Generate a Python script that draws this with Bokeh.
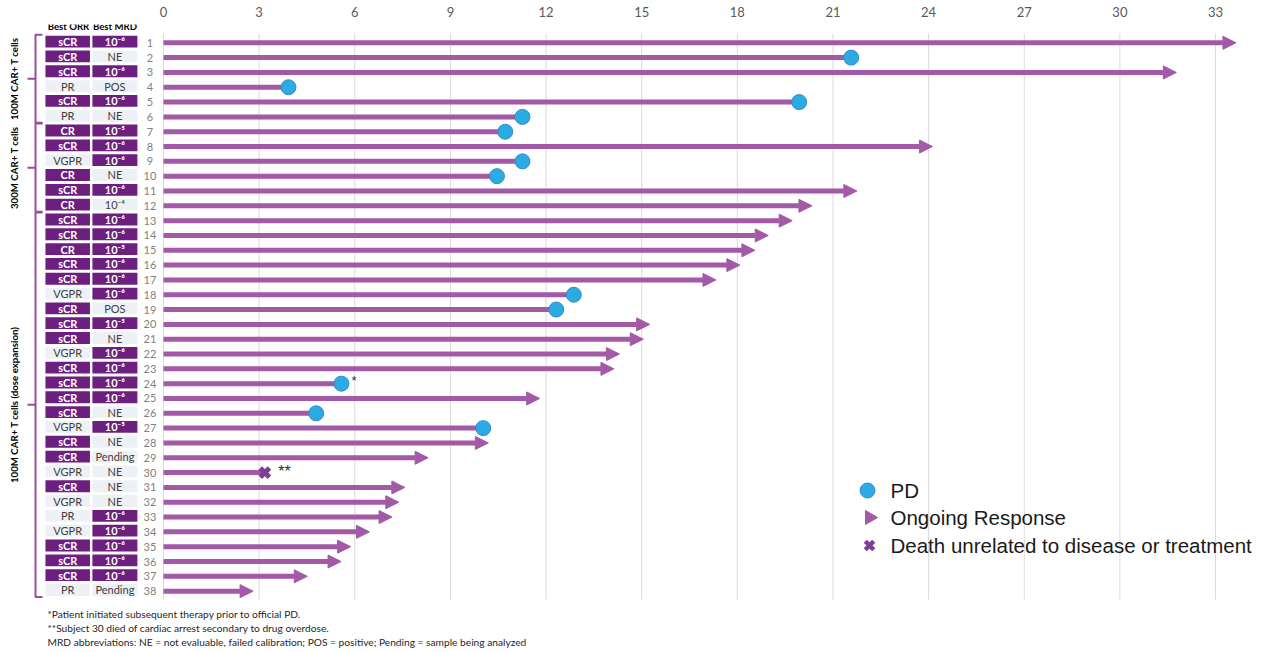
import math

from bokeh.core.properties import value
from bokeh.embed import file_html
from bokeh.models import Arrow, ColumnDataSource, FixedTicker, Label, NormalHead, Range1d
from bokeh.plotting import figure
from bokeh.resources import INLINE

# ---------------------------------------------------------------- data
patients = list(range(1, 39))

best_orr = ["sCR", "sCR", "sCR", "PR", "sCR", "PR",
            "CR", "sCR", "VGPR", "CR", "sCR", "CR",
            "sCR", "sCR", "CR", "sCR", "sCR", "VGPR", "sCR", "sCR", "sCR", "VGPR",
            "sCR", "sCR", "sCR", "sCR", "VGPR", "sCR", "sCR", "VGPR", "sCR", "VGPR",
            "PR", "VGPR", "sCR", "sCR", "sCR", "PR"]

best_mrd = ["10⁻⁶", "NE", "10⁻⁶", "POS", "10⁻⁶", "NE",
            "10⁻⁵", "10⁻⁶", "10⁻⁶", "NE", "10⁻⁶", "10⁻⁴",
            "10⁻⁶", "10⁻⁶", "10⁻⁵", "10⁻⁶", "10⁻⁶", "10⁻⁶", "POS", "10⁻⁵", "NE", "10⁻⁶",
            "10⁻⁶", "10⁻⁶", "10⁻⁶", "NE", "10⁻⁵", "NE", "Pending", "NE", "NE", "NE",
            "10⁻⁶", "10⁻⁶", "10⁻⁶", "10⁻⁶", "10⁻⁶", "Pending"]

# months on study
months = [33.64, 21.57, 31.77, 3.92, 19.94, 11.26,
          10.72, 24.12, 11.26, 10.46, 21.75, 20.34,
          19.72, 18.97, 18.55, 18.08, 17.33, 12.87, 12.32, 15.25, 15.05, 14.30,
          14.13, 5.58, 11.80, 4.79, 10.03, 10.19, 8.30, 3.18, 7.57, 7.38,
          7.17, 6.46, 5.87, 5.57, 4.51, 2.81]

status = ["ongoing", "PD", "ongoing", "PD", "PD", "PD",
          "PD", "ongoing", "PD", "PD", "ongoing", "ongoing",
          "ongoing", "ongoing", "ongoing", "ongoing", "ongoing", "PD", "PD", "ongoing", "ongoing", "ongoing",
          "ongoing", "PD", "ongoing", "PD", "PD", "ongoing", "ongoing", "death", "ongoing", "ongoing",
          "ongoing", "ongoing", "ongoing", "ongoing", "ongoing", "ongoing"]

note_patients = [24, 30]
note_marks = ["*", "**"]

cohort_names = ["100M CAR+ T cells", "300M CAR+ T cells", "100M CAR+ T cells (dose expansion)"]
cohort_first = [1, 7, 13]
cohort_last = [6, 12, 38]

x_ticks = [0, 3, 6, 9, 12, 15, 18, 21, 24, 27, 30, 33]

deep_orr = ["sCR", "CR"]
deep_mrd = ["10⁻⁶", "10⁻⁵"]

table_headers = ["Best ORR", "Best MRD"]
legend_labels = ["PD", "Ongoing Response", "Death unrelated to disease or treatment"]

footnotes = [
    "*Patient initiated subsequent therapy prior to official PD.",
    "**Subject 30 died of cardiac arrest secondary to drug overdose.",
    "MRD abbreviations: NE = not evaluable, failed calibration; POS = positive; Pending = sample being analyzed",
]

# ---------------------------------------------------------------- geometry / style
W, H, TOP = 1261, 652, 24
PX0, PPU = 163.0, 31.88          # pixel of month 0, pixels per month
ROW1_PY, ROW_PITCH = 42.3, 14.82  # pixel of row 1, pixels per row


def xd(px):
    return (px - PX0) / PPU


def yd(py):
    return 1 + (py - ROW1_PY) / ROW_PITCH


BAR = "#a259a6"
DEEP = "#6c1f7e"
LIGHT = "#edf1f6"
DOT = "#2aace2"
DOT_EDGE = "#3a86c8"
CROSS = "#7d3f93"
BRACKET = "#9a4d9c"
TABLE_FONT = value("Lato")

p = figure(width=W, height=H,
           x_range=Range1d(xd(0), xd(W)), y_range=Range1d(yd(H), yd(TOP)),
           x_axis_location="above", y_axis_location=None,
           toolbar_location=None, output_backend="svg",
           min_border_left=0, min_border_right=0, min_border_bottom=0, min_border_top=TOP,
           outline_line_color=None, background_fill_color="white")
p.grid.visible = False

ax = p.xaxis[0]
ax.ticker = FixedTicker(ticks=x_ticks)
ax.axis_line_color = None
ax.major_tick_line_color = None
ax.minor_tick_line_color = None
ax.major_label_standoff = 2
ax.major_label_text_font = "Lato"
ax.major_label_text_font_size = "13px"
ax.major_label_text_color = "#595959"

# vertical grid lines
p.segment(x0=x_ticks, x1=x_ticks, y0=[yd(33)] * len(x_ticks), y1=[yd(599)] * len(x_ticks),
          line_color="#d9d9d9", line_width=1)

# ---------------------------------------------------------------- bars
stop_idx = [i for i, s in enumerate(status) if s != "ongoing"]
go_idx = [i for i, s in enumerate(status) if s == "ongoing"]

p.segment(x0=[0] * len(stop_idx), x1=[months[i] for i in stop_idx],
          y0=[patients[i] for i in stop_idx], y1=[patients[i] for i in stop_idx],
          line_color=BAR, line_width=5)

arrow_src = ColumnDataSource(dict(x0=[0] * len(go_idx),
                                  x1=[months[i] for i in go_idx],
                                  y=[patients[i] for i in go_idx]))
p.add_layout(Arrow(end=NormalHead(size=13, fill_color=BAR, line_color=BAR, line_width=1),
                   x_start="x0", y_start="y", x_end="x1", y_end="y",
                   line_color=BAR, line_width=5, source=arrow_src))

pd_idx = [i for i, s in enumerate(status) if s == "PD"]
p.scatter(x=[months[i] for i in pd_idx], y=[patients[i] for i in pd_idx], marker="circle",
          size=15, fill_color=DOT, line_color=DOT_EDGE, line_width=1)

death_idx = [i for i, s in enumerate(status) if s == "death"]
p.scatter(x=[months[i] for i in death_idx], y=[patients[i] for i in death_idx], marker="x",
          size=13, line_color=CROSS, line_width=5)

# footnote marks next to the end points
p.text(x=[months[note_patients[0] - 1] + 0.32], y=[note_patients[0] - 0.2],
       text=note_marks[:1], text_font=value("Liberation Sans"), text_font_size="13px",
       text_baseline="middle", text_align="left", text_color="#333333")
p.text(x=[months[note_patients[1] - 1] + 0.42], y=[note_patients[1] - 0.05],
       text=note_marks[1:], text_font=value("Liberation Sans"), text_font_size="16px",
       text_baseline="middle", text_align="left", text_color="#333333")

# ---------------------------------------------------------------- response table
orr_fill = [DEEP if v in deep_orr else LIGHT for v in best_orr]
mrd_fill = [DEEP if v in deep_mrd else LIGHT for v in best_mrd]
orr_txt = ["white" if v in deep_orr else "#404040" for v in best_orr]
mrd_txt = ["white" if v in deep_mrd else "#404040" for v in best_mrd]
orr_style = ["bold" if v in deep_orr else "normal" for v in best_orr]
mrd_style = ["bold" if v in deep_mrd else "normal" for v in best_mrd]

box_y = [pt - 0.08 for pt in patients]
table = ColumnDataSource(dict(y=box_y, yrow=patients, orr=best_orr, mrd=best_mrd,
                              num=[str(pt) for pt in patients],
                              orr_fill=orr_fill, mrd_fill=mrd_fill,
                              orr_txt=orr_txt, mrd_txt=mrd_txt,
                              orr_style=orr_style, mrd_style=mrd_style))

X_ORR, X_MRD, X_NUM = xd(67.2), xd(114.4), xd(149.5)
p.rect(x=X_ORR, y="y", width=44.5 / PPU, height=0.8, fill_color="orr_fill", line_color=None, source=table)
p.rect(x=X_MRD, y="y", width=45 / PPU, height=0.8, fill_color="mrd_fill", line_color=None, source=table)
p.text(x=X_ORR, y="y", text="orr", text_color="orr_txt", text_font_style="orr_style",
       text_font=TABLE_FONT, text_font_size="11px", text_align="center", text_baseline="middle",
       source=table)
p.text(x=X_MRD, y="y", text="mrd", text_color="mrd_txt", text_font_style="mrd_style",
       text_font=TABLE_FONT, text_font_size="11px", text_align="center", text_baseline="middle",
       source=table)
p.text(x=X_NUM, y="yrow", text="num", text_color="#7f7f7f", text_font=TABLE_FONT,
       text_font_size="11px", text_align="center", text_baseline="middle", source=table)

for label, px in zip(table_headers, [68.0, 114.5]):
    p.add_layout(Label(x=px, y=H - 25.5, x_units="screen", y_units="screen",
                       text=label, text_font="Lato", text_font_style="bold", text_font_size="9.6px",
                       text_align="center", text_baseline="middle", text_color="#000000"))

# ---------------------------------------------------------------- cohort brackets
tops = [f - 0.55 for f in cohort_first]
bots = [l + 0.4 for l in cohort_last]
mids = [(t + b) / 2 for t, b in zip(tops, bots)]
XB, XB_END, XB_TICK = xd(35), xd(42), xd(27)
p.multi_line(xs=[[XB_END, XB, XB, XB_END] for _ in tops],
             ys=[[t, t, b, b] for t, b in zip(tops, bots)],
             line_color=BRACKET, line_width=2)
p.segment(x0=[XB] * 3, x1=[XB_TICK] * 3, y0=mids, y1=mids, line_color=BRACKET, line_width=2)
p.text(x=[xd(13)] * 3, y=mids, text=cohort_names, angle=math.pi / 2,
       text_font=TABLE_FONT, text_font_style="bold", text_font_size="9.7px",
       text_align="center", text_baseline="middle", text_color="#000000")

# ---------------------------------------------------------------- legend
LEG_X, LEG_TXT = xd(869), xd(890)
leg_rows = [yd(490), yd(517), yd(545)]
p.scatter(x=[xd(867)], y=leg_rows[:1], marker="circle", size=15,
          fill_color=DOT, line_color=DOT_EDGE, line_width=1)
p.scatter(x=[LEG_X], y=leg_rows[1:2], marker="triangle", angle=-math.pi / 2, size=14,
          fill_color=BAR, line_color=BAR)
p.scatter(x=[LEG_X], y=leg_rows[2:], marker="x", size=12, line_color=CROSS, line_width=4.5)
p.text(x=[LEG_TXT] * 3, y=leg_rows, text=legend_labels, text_font=value("Liberation Sans"),
       text_font_size="20.5px", text_align="left", text_baseline="middle", text_color="#1a1a1a")

# ---------------------------------------------------------------- footnotes
for line, py in zip(footnotes, [613, 627, 641]):
    p.add_layout(Label(x=47, y=H - py, x_units="screen", y_units="screen", text=line,
                       text_font="Lato", text_font_size="10.2px", text_color="#262626",
                       text_baseline="middle", text_align="left"))

open("out.html", "w").write(file_html(p, INLINE))
